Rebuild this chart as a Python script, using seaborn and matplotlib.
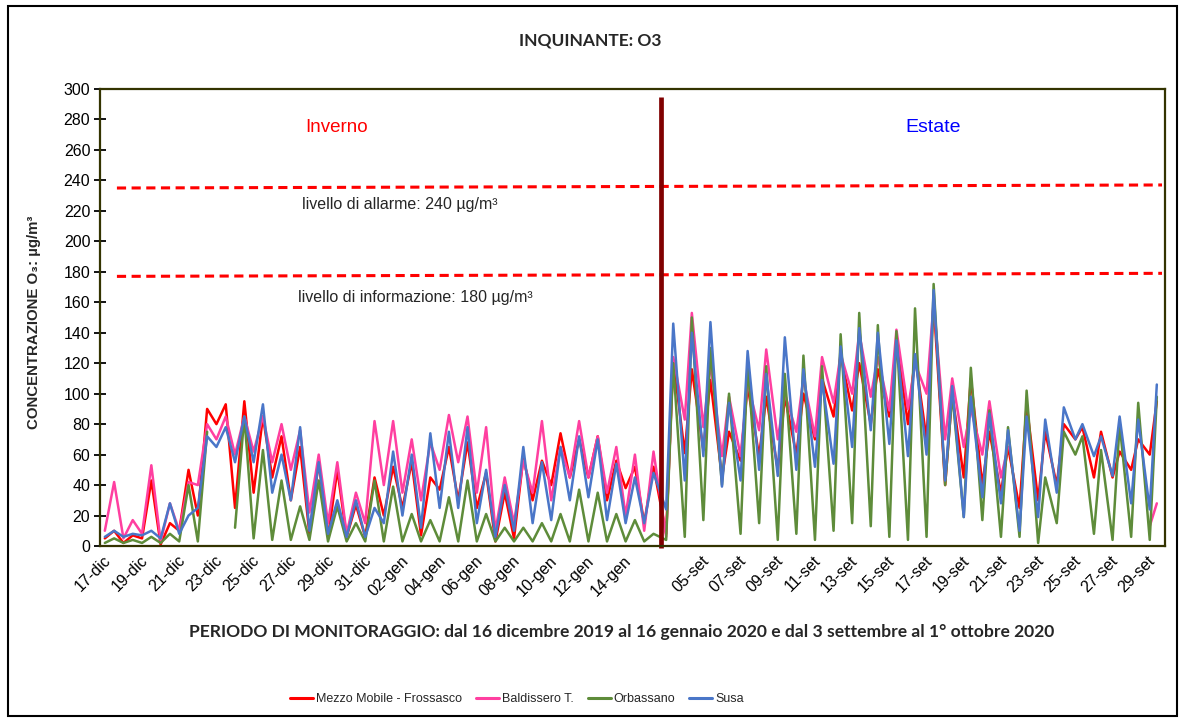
import pandas as pd
import matplotlib
matplotlib.use("Agg")
import matplotlib.pyplot as plt
import seaborn as sns
from matplotlib.lines import Line2D
from matplotlib.patches import Rectangle

# giorni dei due periodi di monitoraggio
giorni_inverno = ["17-dic", "18-dic", "19-dic", "20-dic", "21-dic", "22-dic", "23-dic", "24-dic",
                  "25-dic", "26-dic", "27-dic", "28-dic", "29-dic", "30-dic", "31-dic",
                  "01-gen", "02-gen", "03-gen", "04-gen", "05-gen", "06-gen", "07-gen", "08-gen",
                  "09-gen", "10-gen", "11-gen", "12-gen", "13-gen", "14-gen", "15-gen"]
giorni_estate = ["03-set", "04-set", "05-set", "06-set", "07-set", "08-set", "09-set", "10-set",
                 "11-set", "12-set", "13-set", "14-set", "15-set", "16-set", "17-set", "18-set",
                 "19-set", "20-set", "21-set", "22-set", "23-set", "24-set", "25-set", "26-set",
                 "27-set", "28-set", "29-set"]

stazioni = ["Mezzo Mobile - Frossasco", "Baldissero T.", "Orbassano", "Susa"]
colori = ["#ff0000", "#ff3fa0", "#5e8c3a", "#4a76c8"]

# minimi e massimi giornalieri di O3 (ug/m3), None = dato mancante
frossasco_inv_min = [5, 2, 5, 1, 10, 20, 80, 25, 35, 45, 30, 8, 6, 6, 6,
                     20, 25, 7, 37, 30, 25, 3, 5, 30, 40, 45, 45, 30, 38, 15]
frossasco_inv_max = [10, 7, 43, 15, 50, 90, 93, 95, 85, 72, 65, 55, 50, 27, 45,
                     52, 55, 45, 65, 68, 48, 35, 58, 56, 74, 70, 72, 56, 52, 52]
baldissero_inv_min = [10, 5, 8, 3, 10, 40, 70, 60, 62, 55, 50, 22, 15, 8, 15,
                      40, 35, 30, 50, 55, 35, 10, 15, 35, 30, 45, 45, 35, 20, 10]
baldissero_inv_max = [42, 17, 53, 28, 42, 80, 85, 85, 85, 80, 76, 60, 55, 35, 82,
                      82, 70, 68, 86, 85, 78, 45, 56, 82, 65, 82, 72, 65, 60, 62]
orbassano_inv_min = [2, 2, 2, 2, 3, 3, None, 12, 5, 4, 4, 4, 3, 3, 3,
                     3, 3, 3, 3, 3, 3, 3, 3, 3, 3, 3, 3, 3, 3, 3]
orbassano_inv_max = [5, 4, 6, 8, 40, 75, None, 85, 63, 43, 26, 43, 26, 15, 43,
                     39, 21, 17, 32, 43, 21, 12, 12, 15, 21, 37, 35, 21, 17, 8]
susa_inv_min = [6, 6, 7, 5, 8, 25, 65, 55, 55, 35, 30, 10, 8, 6, 6,
                15, 20, 12, 25, 25, 15, 6, 10, 15, 17, 30, 32, 17, 15, 15]
susa_inv_max = [10, 8, 10, 28, 20, 72, 78, 85, 93, 60, 78, 55, 30, 30, 25,
                62, 60, 74, 75, 78, 50, 40, 65, 55, 65, 72, 70, 54, 45, 48]

frossasco_est_min = [8, 61, 63, 45, 56, 59, 50, 60, 70, 85, 89, 80, 85, 80,
                     70, 40, 45, 40, 35, 25, 30, 40, 70, 45, 45, 50, 60]
frossasco_est_max = [122, 116, 109, 75, 105, 98, 98, 100, 110, 125, 120, 116, 135, 125,
                     160, 100, 110, 75, 65, 93, 75, 80, 78, 75, 62, 70, 95]
baldissero_est_min = [6, 83, 78, 59, 59, 76, 70, 75, 72, 94, 100, 98, 89, 90,
                      100, 70, 65, 60, 45, None, None, None, None, None, None, None, 13]
baldissero_est_max = [124, 153, 120, 98, 107, 129, 100, 110, 124, 126, 140, 124, 142, 120,
                      160, 110, 90, 95, 65, None, None, None, None, None, None, None, 28]
orbassano_est_min = [4, 6, 17, 40, 8, 15, 4, 8, 4, 10, 15, 13, 6, 4,
                     6, 40, 19, 17, 6, 6, 2, 15, 60, 8, 4, 6, 4]
orbassano_est_max = [120, 150, 130, 100, 120, 118, 113, 125, 118, 139, 153, 145, 141, 156,
                     172, 100, 117, 89, 78, 102, 45, 75, 72, 63, 80, 94, 98]
susa_est_min = [24, 43, 59, 39, 43, 50, 46, 50, 52, 54, 65, 76, 67, 59,
                60, 43, 19, 32, 28, 10, 19, 35, 70, 59, 46, 28, 24]
susa_est_max = [146, 140, 147, 94, 128, 113, 137, 116, 109, 131, 143, 140, 135, 126,
                168, 105, 98, 87, 76, 85, 83, 91, 80, 72, 85, 83, 106]

soglia_allarme = [235, 237]
soglia_informazione = [177, 179]

# posizione dei giorni sull'asse (un'unita' = un giorno)
X0_INV = 0.16
X0_EST = 30.32
X_SEPARATORE = 30.16
X_MAX = 57.26
FASI_INV = (0.1, 0.6)
FASI_EST = (0.12, 0.5)


def serie_stazione(nome, inv_min, inv_max, est_min, est_max):
    """Alterna minimo e massimo di ogni giorno; un dato mancante spezza la linea."""
    righe = []
    tratto = 0
    blocchi = [(X0_INV, inv_min, inv_max, FASI_INV), (X0_EST, est_min, est_max, FASI_EST)]
    for x0, minimi, massimi, (f_min, f_max) in blocchi:
        for i, (lo, hi) in enumerate(zip(minimi, massimi)):
            for f, v in ((f_min, lo), (f_max, hi)):
                if v is None:
                    tratto += 1
                    continue
                righe.append({"x": x0 + i + f, "valore": v, "stazione": nome,
                              "tratto": f"{nome}_{tratto}"})
    return righe


righe = []
righe += serie_stazione(stazioni[0], frossasco_inv_min, frossasco_inv_max, frossasco_est_min, frossasco_est_max)
righe += serie_stazione(stazioni[1], baldissero_inv_min, baldissero_inv_max, baldissero_est_min, baldissero_est_max)
righe += serie_stazione(stazioni[2], orbassano_inv_min, orbassano_inv_max, orbassano_est_min, orbassano_est_max)
righe += serie_stazione(stazioni[3], susa_inv_min, susa_inv_max, susa_est_min, susa_est_max)
df = pd.DataFrame(righe)

sns.set_theme(style="white")
plt.rcParams["font.family"] = ["Liberation Sans", "DejaVu Sans"]

fig = plt.figure(figsize=(11.84, 7.2), dpi=100)
ax = fig.add_axes([100 / 1184, 1 - 546 / 720, 1065 / 1184, 457 / 720])

sns.lineplot(data=df, x="x", y="valore", hue="stazione", hue_order=stazioni,
             palette=dict(zip(stazioni, colori)), units="tratto", estimator=None,
             linewidth=1.8, legend=False, ax=ax)

# soglie
ax.plot([0.91, 57.1], soglia_allarme, color="#ff0000", lw=2.2, ls=(0, (3, 1.8)))
ax.plot([0.91, 57.1], soglia_informazione, color="#ff0000", lw=2.2, ls=(0, (3, 1.8)))
ax.plot([X_SEPARATORE, X_SEPARATORE], [-1.5, 295], color="#800000", lw=3.4,
        clip_on=False, solid_capstyle="butt")

ax.text(12.74, 274.5, "Inverno", color="#ff0000", fontsize=13.5, ha="center", va="center")
ax.text(44.8, 274.5, "Estate", color="#0000ff", fontsize=14, ha="center", va="center")
ax.text(10.86, 224, "livello di allarme: 240 µg/m³", fontsize=11.5, ha="left", va="center")
ax.text(10.65, 163, "livello di informazione: 180 µg/m³", fontsize=11.5, ha="left", va="center")

ax.set_xlim(0, X_MAX)
ax.set_ylim(0, 300)
ax.set_yticks(range(0, 301, 20))

pos_tick = [X0_INV + i for i in range(0, len(giorni_inverno), 2)] + \
           [X0_EST + j for j in range(2, len(giorni_estate), 2)]
etichette = giorni_inverno[0::2] + giorni_estate[2::2]
ax.set_xticks(pos_tick)
ax.set_xticklabels(etichette, rotation=45, ha="right", rotation_mode="anchor")
ax.tick_params(axis="x", length=0, pad=5, labelsize=11.5, colors="black")
ax.tick_params(axis="y", direction="inout", length=8, width=1.3, pad=3,
               labelsize=11.5, colors="black", left=True)

for sp in ax.spines.values():
    sp.set_color("#333300")
    sp.set_linewidth(1.6)

ax.set_xlabel("PERIODO DI MONITORAGGIO: dal 16 dicembre 2019 al 16 gennaio 2020 e dal 3 settembre al 1° ottobre 2020",
              fontsize=12.6, fontweight="bold", family=["Lato", "DejaVu Sans"], va="top")
ax.xaxis.set_label_coords(0.49, -0.171)
ax.set_ylabel("CONCENTRAZIONE O₃: µg/m³", fontsize=10.8, fontweight="bold")
ax.yaxis.set_label_coords(-0.055, 0.49)

fig.text(590 / 1184, 1 - 40 / 720, "INQUINANTE: O3", fontsize=12.5, fontweight="bold",
         family=["Lato", "DejaVu Sans"], ha="center", va="center")

maniglie = [Line2D([], [], color=c, lw=2.2) for c in colori]
fig.legend(maniglie, stazioni, loc="center", bbox_to_anchor=(517 / 1184, 1 - 699 / 720),
           ncol=4, frameon=False, fontsize=9, handlelength=1.85, handletextpad=0.25,
           columnspacing=1.1)

fig.patches.append(Rectangle((7.5 / 1184, 1 - 716 / 720), 1169.5 / 1184, 710.5 / 720,
                             transform=fig.transFigure, fill=False, edgecolor="black", lw=1.5))

fig.savefig("out.png", dpi=100)
